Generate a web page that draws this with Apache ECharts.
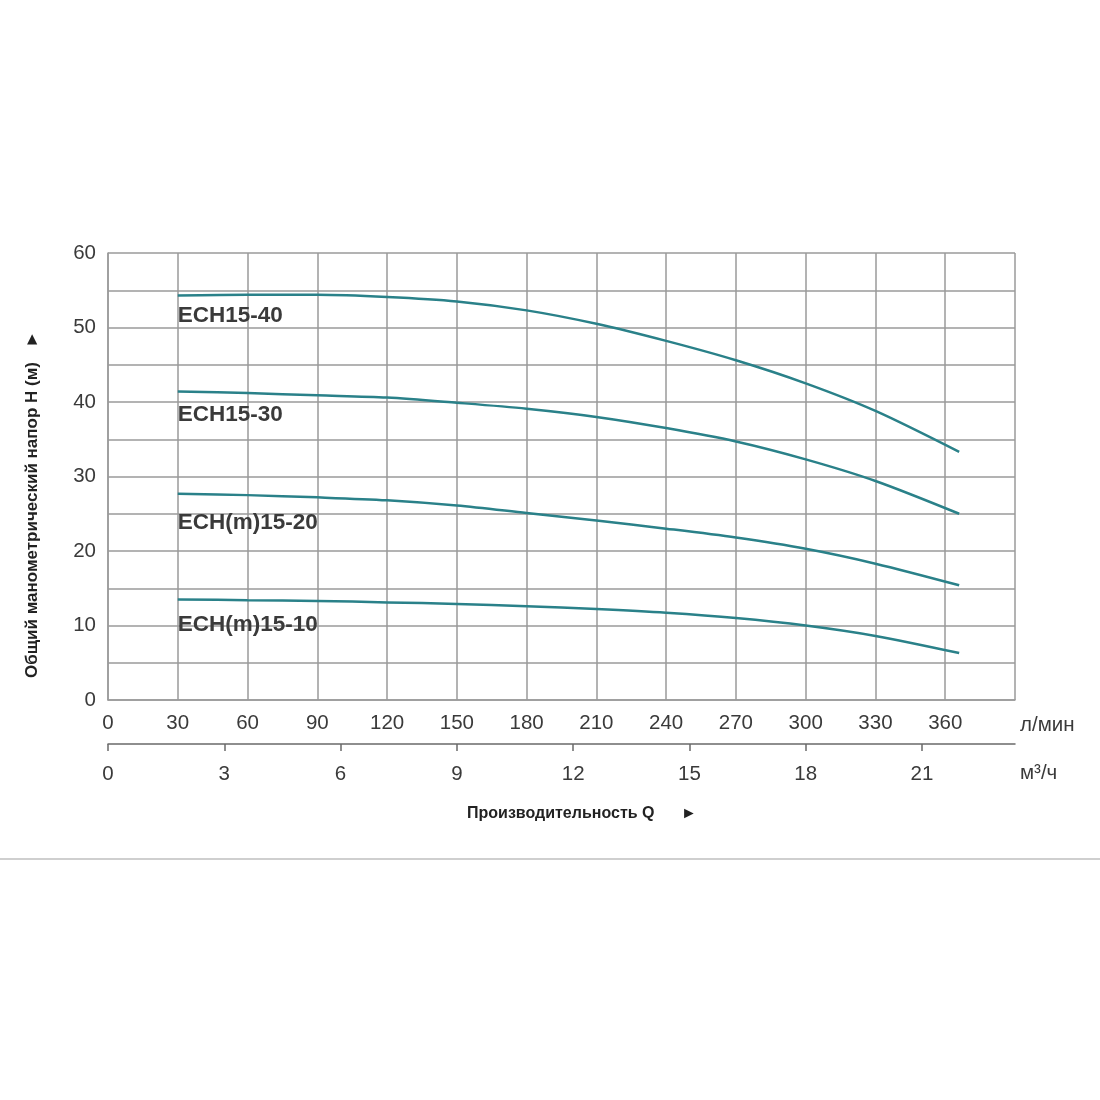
<!DOCTYPE html>
<html>
<head>
<meta charset="utf-8">
<script src="https://cdn.jsdelivr.net/npm/echarts@6/dist/echarts.min.js"></script>
<style>
html,body{margin:0;padding:0;background:#fff;}
#main{width:1100px;height:1100px;}
</style>
</head>
<body>
<div id="main"></div>
<script>
// данные кривых (л/мин -> напор, м)
var flow = [30, 60, 90, 120, 150, 180, 210, 240, 270, 300, 330, 366];
var models = ['ECH15-40', 'ECH15-30', 'ECH(m)15-20', 'ECH(m)15-10'];
var h40 = [54.3, 54.4, 54.4, 54.1, 53.5, 52.3, 50.5, 48.2, 45.6, 42.5, 38.8, 33.3];
var h30 = [41.4, 41.2, 40.9, 40.6, 39.9, 39.1, 38.0, 36.5, 34.7, 32.3, 29.4, 25.0];
var h20 = [27.7, 27.5, 27.2, 26.8, 26.1, 25.1, 24.1, 23.0, 21.8, 20.3, 18.3, 15.4];
var h10 = [13.5, 13.4, 13.3, 13.1, 12.9, 12.6, 12.2, 11.7, 11.0, 10.0, 8.6, 6.3];
var m3hTicks = [0, 3, 6, 9, 12, 15, 18, 21];

var heads = [h40, h30, h20, h10];
var labelDist = [8, 11, 17, 13];
var gridColor = '#9a9a9a';
var txt = '#3a3a3a';
var font = 'Liberation Sans, Arial, sans-serif';
var fs = 20.5;

var myChart = echarts.init(document.getElementById('main'));

var series = [];
for (var i = 0; i < heads.length; i++) {
	var data = [];
	for (var j = 0; j < flow.length; j++) {
		data.push([flow[j], heads[i][j]]);
	}
	series.push({
		name: models[i],
		type: 'line',
		xAxisIndex: 0,
		smooth: 0.3,
		showSymbol: false,
		lineStyle: { color: '#2a8189', width: 2.5 },
		data: data,
		// подпись модели под началом кривой
		markPoint: {
			symbol: 'circle',
			symbolSize: 1,
			itemStyle: { color: 'rgba(0,0,0,0)' },
			silent: true,
			data: [{
				coord: data[0],
				label: {
					show: true,
					formatter: models[i],
					position: 'bottom',
					align: 'left',
					distance: labelDist[i],
					fontFamily: font,
					fontWeight: 'bold',
					fontSize: 22.5,
					color: txt
				}
			}]
		}
	});
}

var option = {
	animation: false,
	backgroundColor: '#fff',
	grid: { left: 108, right: 85, top: 253, bottom: 400 },
	xAxis: [
		{
			type: 'value',
			min: 0, max: 390, interval: 30,
			position: 'bottom',
			name: 'л/мин',
			nameLocation: 'end',
			nameGap: 5,
			nameTextStyle: { fontFamily: font, fontSize: fs, color: txt, verticalAlign: 'top', padding: [15, 0, 0, 0] },
			axisLine: { show: true, lineStyle: { color: gridColor, width: 1.5 } },
			axisTick: { show: false },
			axisLabel: {
				margin: 13, fontFamily: font, fontSize: fs, color: txt,
				formatter: function (v) { return v > 360 ? '' : v; }
			},
			splitLine: { show: true, lineStyle: { color: gridColor, width: 1.5 } }
		},
		{
			type: 'value',
			min: 0, max: 23.4, interval: 3,
			position: 'bottom',
			offset: 44,
			name: 'м³/ч',
			nameLocation: 'end',
			nameGap: 5,
			nameTextStyle: { fontFamily: font, fontSize: fs, color: txt, verticalAlign: 'top', padding: [19, 0, 0, 0] },
			axisLine: { show: true, lineStyle: { color: '#6a6a6a', width: 1.5 } },
			axisTick: { show: true, inside: false, length: 7, lineStyle: { color: '#6a6a6a', width: 1.5 }, customValues: m3hTicks },
			axisLabel: {
				margin: 20, fontFamily: font, fontSize: fs, color: txt, customValues: m3hTicks,
				formatter: function (v) { return v % 3 == 0 ? v : ''; }
			},
			splitLine: { show: false }
		}
	],
	yAxis: {
		type: 'value',
		min: 0, max: 60, interval: 5,
		name: 'Общий манометрический напор H (м)   ►',
		nameLocation: 'middle',
		nameRotate: 90,
		nameGap: 67,
		nameTextStyle: { fontFamily: font, fontSize: 17, fontWeight: 'bold', color: '#222', padding: [0, 56, 0, 0] },
		axisLine: { show: true, lineStyle: { color: gridColor, width: 1.5 } },
		axisTick: { show: false },
		axisLabel: {
			margin: 12, fontFamily: font, fontSize: fs, color: txt,
			formatter: function (v) { return v % 10 == 0 ? v : ''; }
		},
		splitLine: { show: true, lineStyle: { color: gridColor, width: 1.5 } }
	},
	graphic: [
		{
			type: 'text',
			left: 467,
			top: 806,
			style: { text: 'Производительность Q      ►', font: 'bold 16px ' + font, fill: '#222' }
		},
		{
			type: 'rect',
			left: 0, top: 858,
			shape: { width: 1100, height: 2 },
			style: { fill: '#cfcfcf' }
		}
	],
	series: series
};

myChart.setOption(option);
</script>
</body>
</html>
